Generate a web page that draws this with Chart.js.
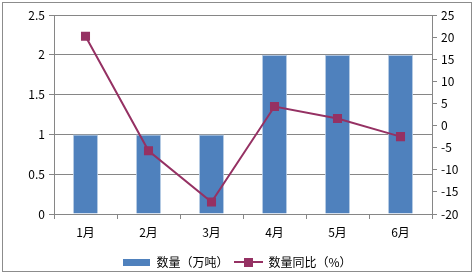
<!doctype html>
<html>
<head>
    <meta charset="UTF-8">
    <title>数量及同比</title>
    <script src="https://cdn.jsdelivr.net/npm/chart.js"></script>
    <style>
        body { margin: 0; background: #fff; }
        #wrap { width: 474px; height: 274px; }
    </style>
</head>
<body>
    <div id="wrap"><canvas id="chart" width="474" height="274"></canvas></div>
    <script>
        var months = ['1月', '2月', '3月', '4月', '5月', '6月'];
        var amount = [1, 1, 1, 2, 2, 2];            // 数量（万吨）
        var yoy = [20.2, -5.7, -17.3, 4.3, 1.6, -2.5]; // 数量同比（%）

        var barColor = '#4F81BD';
        var lineColor = '#953163';
        var gridColor = '#868686';
        var font = { family: '"Noto Sans CJK SC", "DejaVu Sans", sans-serif', size: 12 };

        // legend icons
        function barIcon() {
            var c = document.createElement('canvas');
            c.width = 27; c.height = 7;
            var g = c.getContext('2d');
            g.fillStyle = barColor;
            g.fillRect(0, 0, 27, 7);
            return c;
        }
        function lineIcon() {
            var c = document.createElement('canvas');
            c.width = 29; c.height = 10;
            var g = c.getContext('2d');
            g.strokeStyle = lineColor;
            g.lineWidth = 2;
            g.beginPath(); g.moveTo(0, 5); g.lineTo(29, 5); g.stroke();
            g.fillStyle = lineColor;
            g.fillRect(10, 1, 9, 9);
            return c;
        }

        var frame = {
            id: 'frame',
            afterDraw: function (chart) {
                var ctx = chart.ctx;
                ctx.save();
                ctx.strokeStyle = '#8c8c8c';
                ctx.lineWidth = 1;
                ctx.strokeRect(2.5, 2.5, 469, 269);
                ctx.restore();
            }
        };

        new Chart(document.getElementById('chart').getContext('2d'), {
            data: {
                labels: months,
                datasets: [{
                    type: 'line',
                    label: '数量同比（%）',
                    data: yoy,
                    yAxisID: 'y1',
                    borderColor: lineColor,
                    backgroundColor: lineColor,
                    borderWidth: 2,
                    pointStyle: 'rect',
                    pointRadius: 6.4,
                    pointBorderWidth: 0,
                    tension: 0,
                    order: 0
                }, {
                    type: 'bar',
                    label: '数量（万吨）',
                    data: amount,
                    yAxisID: 'y',
                    backgroundColor: barColor,
                    borderColor: '#b9cde5',
                    borderWidth: 1,
                    barPercentage: 0.4,
                    categoryPercentage: 1,
                    order: 1
                }]
            },
            options: {
                responsive: false,
                animation: false,
                layout: { padding: { top: 15, left: 0, right: 0, bottom: -4 } },
                plugins: {
                    tooltip: { enabled: false },
                    legend: {
                        position: 'bottom',
                        labels: {
                            font: font,
                            color: '#000',
                            usePointStyle: true,
                            pointStyleWidth: 28,
                            padding: 6,
                            sort: function (a, b) { return b.datasetIndex - a.datasetIndex; },
                            generateLabels: function (chart) {
                                return chart.data.datasets.map(function (ds, i) {
                                    return {
                                        text: ds.label,
                                        datasetIndex: i,
                                        pointStyle: ds.type === 'bar' ? barIcon() : lineIcon(),
                                        fillStyle: ds.backgroundColor,
                                        strokeStyle: ds.borderColor,
                                        lineWidth: 0,
                                        fontColor: '#000'
                                    };
                                });
                            }
                        }
                    }
                },
                scales: {
                    x: {
                        grid: { offset: true, drawOnChartArea: false, drawTicks: true, tickLength: 5, color: gridColor },
                        border: { color: gridColor },
                        ticks: { font: font, color: '#000', padding: 6 },
                        afterFit: function (s) { s.height = 36; }
                    },
                    y: {
                        position: 'left',
                        min: 0,
                        max: 2.5,
                        ticks: {
                            stepSize: 0.5, font: font, color: '#000', padding: 4,
                            callback: function (v) { return String(v); }
                        },
                        grid: { color: gridColor, tickLength: 5 },
                        border: { color: gridColor },
                        afterFit: function (s) { s.width = 54; }
                    },
                    y1: {
                        position: 'right',
                        min: -20,
                        max: 25,
                        ticks: { stepSize: 5, font: font, color: '#000', padding: 4 },
                        grid: { drawOnChartArea: false, color: gridColor, tickLength: 5 },
                        border: { color: gridColor },
                        afterFit: function (s) { s.width = 42; }
                    }
                }
            },
            plugins: [frame]
        });
    </script>
</body>
</html>
